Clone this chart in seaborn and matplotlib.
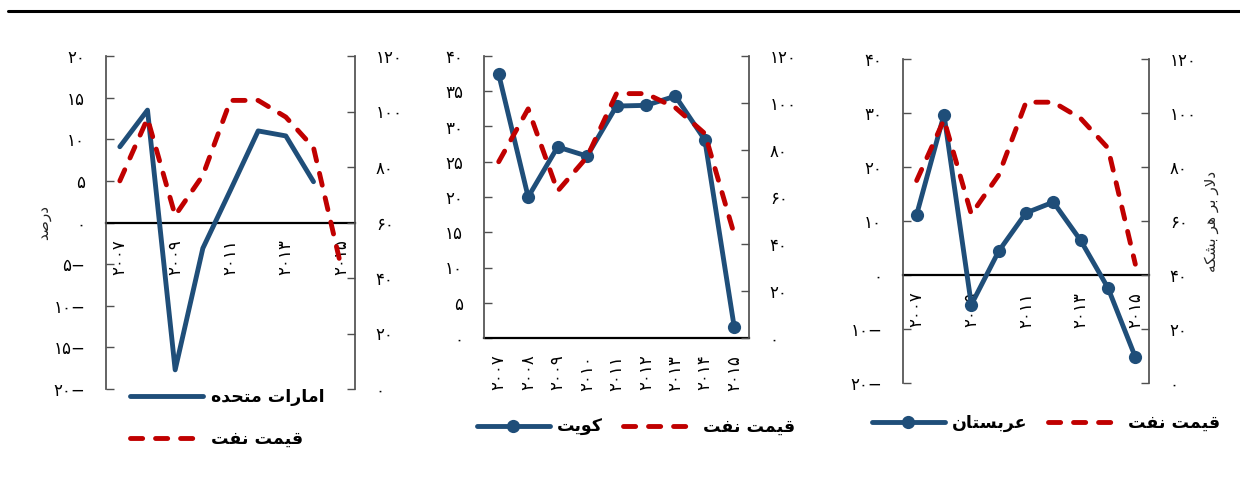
import numpy as np
import pandas as pd
import matplotlib
matplotlib.use("Agg")
import matplotlib.pyplot as plt
import seaborn as sns
from matplotlib.lines import Line2D

# ---- data ----
years = [2007, 2008, 2009, 2010, 2011, 2012, 2013, 2014, 2015]
oil_price = [75, 97.5, 62.5, 77, 104, 104, 98, 87, 44]          # dollars per barrel
uae = [9.1, 13.5, -17.7, -3.1, 3.9, 11.0, 10.4, 4.9]             # 2007-2014, percent
kuwait = [37.4, 20.0, 27.1, 25.8, 32.9, 33.0, 34.3, 28.1, 1.5]
saudi = [11.2, 29.7, -5.5, 4.4, 11.5, 13.5, 6.4, -2.4, -15.2]

uae_ticks = [-20, -15, -10, -5, 0, 5, 10, 15, 20]
kuwait_ticks = [0, 5, 10, 15, 20, 25, 30, 35, 40]
saudi_ticks = [-20, -10, 0, 10, 20, 30, 40]
oil_ticks = [0, 20, 40, 60, 80, 100, 120]

lbl_oil = "قیمت نفت"
lbl_uae = "امارات متحده"
lbl_kuwait = "کویت"
lbl_saudi = "عربستان"
lbl_pct = "درصد"
lbl_usd = "دلار بر هر بشکه"

BLUE = "#1F4E79"
RED = "#C00000"
SPINE = "#505050"

# ---- minimal Persian shaping (matplotlib has no complex text layout) ----
FORMS = {
    'ا': ('\uFE8D', '\uFE8E', None, None),
    'ب': ('\uFE8F', '\uFE90', '\uFE91', '\uFE92'),
    'ت': ('\uFE95', '\uFE96', '\uFE97', '\uFE98'),
    'ح': ('\uFEA1', '\uFEA2', '\uFEA3', '\uFEA4'),
    'د': ('\uFEA9', '\uFEAA', None, None),
    'ر': ('\uFEAD', '\uFEAE', None, None),
    'س': ('\uFEB1', '\uFEB2', '\uFEB3', '\uFEB4'),
    'ش': ('\uFEB5', '\uFEB6', '\uFEB7', '\uFEB8'),
    'ص': ('\uFEB9', '\uFEBA', '\uFEBB', '\uFEBC'),
    'ع': ('\uFEC9', '\uFECA', '\uFECB', '\uFECC'),
    'ف': ('\uFED1', '\uFED2', '\uFED3', '\uFED4'),
    'ق': ('\uFED5', '\uFED6', '\uFED7', '\uFED8'),
    'ل': ('\uFEDD', '\uFEDE', '\uFEDF', '\uFEE0'),
    'م': ('\uFEE1', '\uFEE2', '\uFEE3', '\uFEE4'),
    'ن': ('\uFEE5', '\uFEE6', '\uFEE7', '\uFEE8'),
    'ه': ('\uFEE9', '\uFEEA', '\uFEEB', '\uFEEC'),
    'و': ('\uFEED', '\uFEEE', None, None),
    'ک': ('\uFB8E', '\uFB8F', '\uFB90', '\uFB91'),
    'ی': ('\uFBFC', '\uFBFD', '\uFBFE', '\uFBFF'),
}


def dual(c):
    return c in FORMS and FORMS[c][2] is not None


def shape(text):
    out = []
    i, n = 0, len(text)
    while i < n:
        c = text[i]
        if c not in FORMS:
            out.append(c)
            i += 1
            continue
        jp = i > 0 and dual(text[i - 1])
        if c == 'ل' and i + 1 < n and text[i + 1] == 'ا':
            out.append('\uFEFC' if jp else '\uFEFB')
            i += 2
            continue
        jn = dual(c) and i + 1 < n and text[i + 1] in FORMS
        iso, fin, ini, med = FORMS[c]
        out.append(med if (jp and jn) else fin if jp else ini if jn else iso)
        i += 1
    return ''.join(reversed(out))


FA = str.maketrans('0123456789', '۰۱۲۳۴۵۶۷۸۹')


def fa(v):
    s = str(abs(int(v))).translate(FA)
    return s + '−' if v < 0 else s


# ---- style ----
sns.set_theme(style="white")
plt.rcParams['font.family'] = ['DejaVu Sans']
plt.rcParams['text.color'] = 'black'
plt.rcParams['xtick.color'] = 'black'
plt.rcParams['ytick.color'] = 'black'

fig = plt.figure(figsize=(12.4, 4.8), dpi=100)
W, H = 1240, 480

# header rule
fig.add_artist(Line2D([8 / W, 1.0], [1 - 11 / H, 1 - 11 / H], transform=fig.transFigure,
                      color='black', lw=2.2))

pos = list(range(len(years)))
LW = 3.5
DASH = (2.5, 2.65)
TICKSIZE = 12
LEG = {'weight': 'bold', 'size': 12.5}


def make_panel(rect, vals, ticks, ylim, marker, every_other, inside):
    l, r, t, b = rect
    ax = fig.add_axes([l / W, 1 - b / H, (r - l) / W, (b - t) / H])
    # move the x axis to the zero line first (this resets tick settings)
    if inside:
        ax.spines['bottom'].set_position(('data', 0))
    ax2 = ax.twinx()
    x = pos[:len(vals)]
    kw = dict(marker='o', markersize=9.5, markeredgewidth=0) if marker else {}
    sns.lineplot(x=x, y=vals, ax=ax, color=BLUE, linewidth=LW, legend=False, **kw)
    sns.lineplot(x=pos, y=oil_price, ax=ax2, color=RED, linewidth=LW, legend=False)
    ln = ax2.lines[-1]
    ln.set_dashes(DASH)
    ln.set_dash_capstyle('round')

    ax.set_xlim(-0.5, len(years) - 0.5)
    ax.set_ylim(*ylim)
    ax.set_yticks(ticks)
    ax.set_yticklabels([fa(v) for v in ticks])
    ax2.set_ylim(0, 120)
    ax2.set_yticks(oil_ticks)
    ax2.set_yticklabels([fa(v) for v in oil_ticks])

    xt = pos[::2] if every_other else pos
    ax.set_xticks(xt)
    ax.set_xticklabels([fa(years[i]) for i in xt], rotation=90, va='top', ha='center')

    for a in (ax, ax2):
        a.spines['top'].set_visible(False)
        a.set_xlabel('')
        a.set_ylabel('')
    ax.spines['right'].set_visible(False)
    ax2.spines['left'].set_visible(False)
    ax2.spines['bottom'].set_visible(False)
    ax.spines['left'].set_color(SPINE)
    ax2.spines['right'].set_color(SPINE)
    ax.spines['bottom'].set_color('black')
    ax.spines['bottom'].set_linewidth(1.6)
    ax.spines['bottom'].set_zorder(1)

    ax.tick_params(axis='y', direction='in', length=6, width=1, color=SPINE,
                   pad=15, labelsize=TICKSIZE, left=True, labelcolor='black')
    ax2.tick_params(axis='y', direction='in', length=6, width=1, color=SPINE,
                    pad=15, labelsize=TICKSIZE, right=True, labelcolor='black')
    ax.tick_params(axis='x', length=0, pad=12, labelsize=TICKSIZE, labelcolor='black')
    return ax, ax2


# panel 1: UAE
ax1, ax1b = make_panel((106, 355, 56, 389), uae, uae_ticks, (-20, 20), False, True, True)
ax1.set_ylabel(shape(lbl_pct), fontsize=11, rotation=90)
ax1.yaxis.set_label_coords(-0.22, 0.5)
h1 = [Line2D([], [], color=BLUE, lw=LW, solid_capstyle='round'),
      Line2D([], [], color=RED, lw=LW, dashes=DASH, dash_capstyle='round')]
ax1.legend(h1, [shape(lbl_uae), shape(lbl_oil)], loc='upper left',
           bbox_to_anchor=(114 / W, 1 - 372 / H), bbox_transform=fig.transFigure,
           frameon=False, handlelength=4.2, handletextpad=0.5, labelspacing=1.4,
           prop=LEG)

# panel 2: Kuwait
ax2a, ax2b = make_panel((484, 749, 56, 338), kuwait, kuwait_ticks, (0, 40), True, False, False)
h2 = [Line2D([], [], color=BLUE, lw=LW, marker='o', markersize=9.5, markeredgewidth=0),
      Line2D([], [], color=RED, lw=LW, dashes=DASH, dash_capstyle='round')]
ax2a.legend(h2, [shape(lbl_kuwait), shape(lbl_oil)], loc='center', ncol=2,
            bbox_to_anchor=(636 / W, 1 - 427 / H), bbox_transform=fig.transFigure,
            frameon=False, handlelength=4.2, handletextpad=0.4, columnspacing=1.2,
            prop=LEG)

# panel 3: Saudi Arabia
ax3a, ax3b = make_panel((903, 1149, 59, 383), saudi, saudi_ticks, (-20, 40), True, True, True)
ax3b.set_ylabel(shape(lbl_usd), fontsize=11, rotation=90)
ax3b.yaxis.set_label_coords(1.225, 0.5)
ax3a.legend(h2, [shape(lbl_saudi), shape(lbl_oil)], loc='center', ncol=2,
            bbox_to_anchor=(1046 / W, 1 - 423 / H), bbox_transform=fig.transFigure,
            frameon=False, handlelength=4.2, handletextpad=0.4, columnspacing=1.2,
            prop=LEG)

fig.savefig("out.png", dpi=100)
